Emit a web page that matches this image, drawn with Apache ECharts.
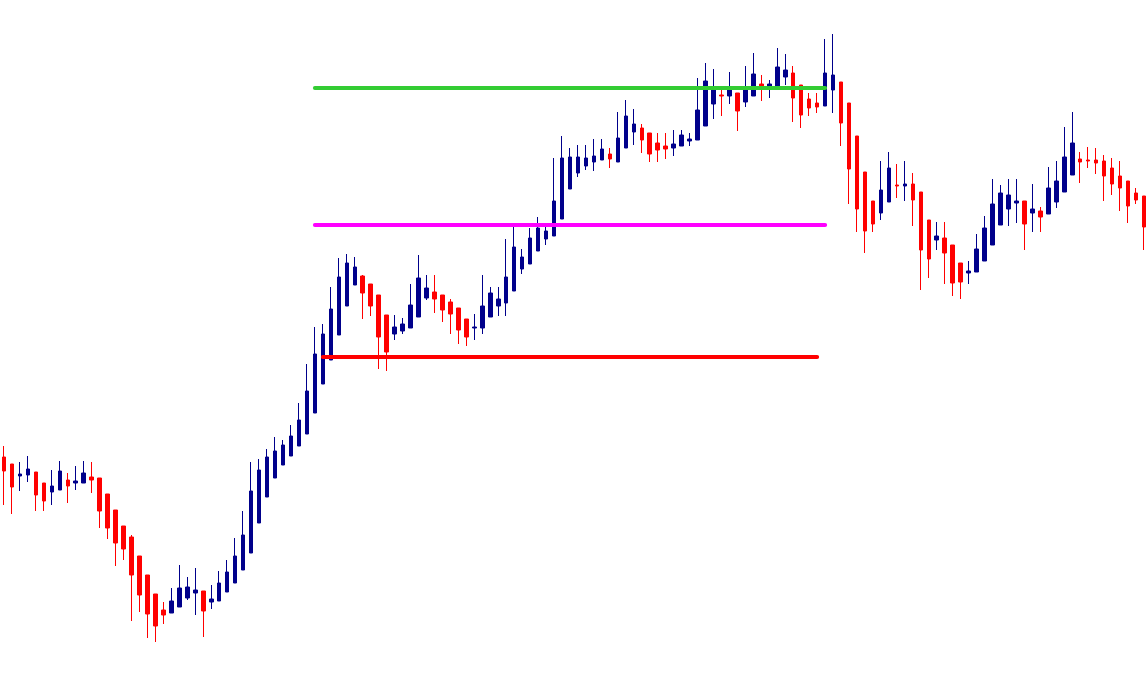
<!DOCTYPE html>
<html>
<head>
<meta charset="utf-8">
<style>html,body{margin:0;padding:0;background:#fff;}#c{width:1148px;height:675px;}</style>
<script src="https://cdn.jsdelivr.net/npm/echarts@6/dist/echarts.min.js"></script>
</head>
<body>
<div id="c"></div>
<script>
// Candles: [open, close, low, high]
const candles = [
[218,204,170,229],[211,188,161,211],[199,201,184,213],[200,206,193,219],[203,180,164,203],
[192,174,164,192],[183,189,170,205],[185,204,185,214],[195,189,172,202],[192,194,185,209],
[192,202,192,214],[198,195,182,213],[197,164,147,197],[181,147,136,181],[165,132,109,165],
[149,126,115,149],[138,100,54,140],[119,80,63,119],[100,61,37,100],[81,49,33,81],
[65,60,51,73],[62,74,62,87],[68,87,68,110],[77,88,75,98],[82,85,60,107],
[84,64,38,84],[73,76,66,90],[74,92,74,104],[83,103,83,115],[92,119,92,137],
[105,140,105,164],[122,184,122,213],[152,205,152,216],[178,218,178,226],[197,224,197,238],
[210,230,210,235],[219,239,219,250],[229,255,229,272],[241,284,241,311],[262,321,262,348],
[291,341,291,351],[315,366,315,388],[340,398,340,417],[369,412,369,421],[390,408,390,418],
[399,382,356,400],[391,369,359,391],[380,338,306,380],[360,323,304,360],[341,348,335,360],
[344,351,341,357],[347,370,347,391],[358,397,358,420],[377,387,375,400],[383,376,362,400],
[380,365,353,380],[373,361,341,376],[367,345,331,367],[356,338,329,356],[347,348,335,361],
[347,369,341,400],[358,382,358,388],[369,376,359,388],[372,398,359,436],[384,428,384,448],
[406,418,401,426],[411,437,411,447],[424,447,424,458],[436,444,430,450],[439,474,439,517],
[456,517,456,539],[486,518,486,527],[502,518,498,530],[509,517,505,530],[513,519,504,536],
[515,526,515,536],[521,516,507,527],[513,537,513,563],[527,559,527,575],[543,551,530,566],
[547,535,522,551],[542,521,513,542],[532,525,513,542],[529,526,516,542],[527,531,519,545],
[529,540,529,545],[534,536,529,542],[535,565,535,597],[549,594,549,612],[571,588,556,606],
[580,579,559,585],[579,585,571,603],[582,564,544,582],[573,585,568,609],[579,601,579,622],
[591,589,574,600],[588,591,577,595],[589,608,589,627],[598,605,590,621],[602,577,553,609],
[590,560,547,590],[576,567,559,582],[572,568,562,582],[569,602,569,636],[585,600,562,641],
[593,552,529,593],[572,506,471,572],[539,466,443,539],[503,444,422,503],[474,451,443,474],
[462,485,455,514],[473,507,473,523],[490,489,477,511],[489,491,474,514],[491,475,449,502],
[483,425,385,483],[455,416,397,455],[435,439,425,453],[437,422,391,453],[430,392,379,430],
[412,393,376,412],[402,404,391,414],[403,426,403,441],[414,447,414,459],[430,471,430,496],
[450,482,450,490],[466,480,449,496],[472,474,452,496],[474,451,425,474],[462,466,443,491],
[464,458,443,468],[461,487,461,508],[473,494,467,514],[483,518,483,548],[500,532,500,563],
[516,513,492,523],[515,514,507,528],[515,512,501,527],[514,499,474,520],[507,491,480,517],
[499,487,464,514],[494,469,452,494],[482,475,471,487],[479,448,425,479]
];
const categories = candles.map((_, i) => String(i));

// Horizontal levels: [startIndex, endIndex, value]
const greenLevel = [39, 103, 587];
const magentaLevel = [39, 103, 450];
const redLevel = [40, 102, 318];

const chart = echarts.init(document.getElementById('c'), null, {renderer: 'canvas'});
function level(l, color) {
  return [{coord: [l[0], l[2]], lineStyle: {color: color, width: 4, cap: 'round', type: 'solid'}},
          {coord: [l[1], l[2]]}];
}
chart.setOption({
  animation: false,
  backgroundColor: '#ffffff',
  grid: {left: -2, right: -2, top: 0, bottom: 0, containLabel: false},
  xAxis: {type: 'category', data: categories, boundaryGap: true, show: false},
  yAxis: {type: 'value', min: 0, max: 675, show: false, splitLine: {show: false}},
  series: [{
    type: 'candlestick',
    data: candles,
    barWidth: 4,
    itemStyle: {
      color: '#00008B', color0: '#FF0000',
      borderColor: '#00008B', borderColor0: '#FF0000',
      borderWidth: 1
    },
    markLine: {
      silent: true,
      symbol: ['none', 'none'],
      label: {show: false},
      emphasis: {disabled: true},
      data: [
        level(greenLevel, '#33CC33'),
        level(magentaLevel, '#FF00FF'),
        level(redLevel, '#FF0000')
      ]
    }
  }]
});
</script>
</body>
</html>
